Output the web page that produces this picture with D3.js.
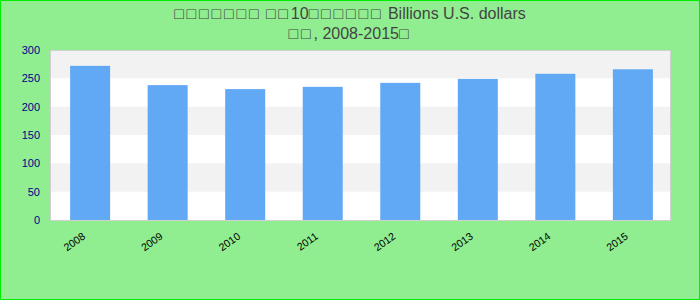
<!DOCTYPE html>
<html>
<head>
<meta charset="utf-8">
<script src="https://cdn.jsdelivr.net/npm/d3@7"></script>
<style>
  body { margin: 0; }
  svg { display: block; font-family: "DejaVu Sans", sans-serif; }
</style>
</head>
<body>
<script>
(function() {

  var years  = ["2008", "2009", "2010", "2011", "2012", "2013", "2014", "2015"],
      values = [272, 238, 231, 235, 242, 249, 258, 266],
      yTicks = [0, 50, 100, 150, 200, 250, 300],
      title1 = "\u25A1\u25A1\u25A1\u25A1\u25A1\u25A1\u25A1 \u25A1\u25A110\u25A1\u25A1\u25A1\u25A1\u25A1\u25A1 Billions U.S. dollars",
      title2 = "\u25A1\u25A1, 2008-2015\u25A1",
      width  = 700, height = 300,
      m      = {top: 50, right: 30, bottom: 80, left: 50},
      w      = width - m.left - m.right,
      h      = height - m.top - m.bottom,
      svg, g, x, y;

  // title line, wider spacing on the box glyphs
  function titleLine(str, ty) {
    var t = svg.append("text")
        .attr("x", width / 2).attr("y", ty)
        .attr("text-anchor", "middle")
        .attr("font-family", "Liberation Sans, Arial, sans-serif")
        .attr("font-size", 16)
        .attr("fill", "#444");
    t.selectAll("tspan")
        .data(str.split(""))
      .enter().append("tspan")
        .attr("letter-spacing", function(c) { return c == "\u25A1" ? "2.8px" : null; })
        .text(function(c) { return c; });
  }

  svg = d3.select("body").append("svg")
      .attr("width", width)
      .attr("height", height);

  // background + border
  svg.append("rect")
      .attr("x", 0.5).attr("y", 0.5)
      .attr("width", width - 1).attr("height", height - 1)
      .attr("fill", "#90ee90")
      .attr("stroke", "#00ee00");

  titleLine(title1, 19);
  titleLine(title2, 39);

  g = svg.append("g").attr("transform", "translate(" + m.left + "," + m.top + ")");

  x = d3.scaleBand().domain(years).range([1.5, w + 1.5]).paddingInner(0.484).paddingOuter(0.24);
  y = d3.scaleLinear().domain([0, 300]).range([h, 0]);

  g.append("rect")
      .attr("width", w).attr("height", h)
      .attr("fill", "#fff");

  // alternating bands
  g.selectAll("rect.band")
      .data(d3.range(0, yTicks.length - 1).filter(function(i) { return i % 2 == 1; }))
    .enter().append("rect")
      .attr("class", "band")
      .attr("x", 0)
      .attr("y", function(i) { return y(yTicks[i + 1]); })
      .attr("width", w)
      .attr("height", function(i) { return y(yTicks[i]) - y(yTicks[i + 1]); })
      .attr("fill", "#f2f2f2");

  g.selectAll("rect.bar")
      .data(values)
    .enter().append("rect")
      .attr("class", "bar")
      .attr("x", function(d, i) { return x(years[i]); })
      .attr("y", function(d) { return y(d); })
      .attr("width", x.bandwidth())
      .attr("height", function(d) { return h - y(d); })
      .attr("fill", "#61a8f5");

  g.append("rect")
      .attr("x", 0.5).attr("y", 0.5)
      .attr("width", w).attr("height", h)
      .attr("fill", "none")
      .attr("stroke", "#d0d0d0");

  var ya = g.append("g").call(d3.axisLeft(y).tickValues(yTicks).tickSize(0).tickPadding(10));
  ya.select(".domain").remove();
  ya.selectAll("text")
      .attr("fill", "#00008b")
      .attr("font-size", 11);

  var xa = g.append("g")
      .attr("transform", "translate(0," + h + ")")
      .call(d3.axisBottom(x).tickSize(0));
  xa.select(".domain").remove();
  xa.selectAll("text")
      .attr("fill", "#000")
      .attr("font-size", 10.5)
      .attr("text-anchor", "end")
      .attr("dy", null)
      .attr("y", 0)
      .attr("transform", "translate(-4,18) rotate(-35)");

}());
</script>
</body>
</html>
